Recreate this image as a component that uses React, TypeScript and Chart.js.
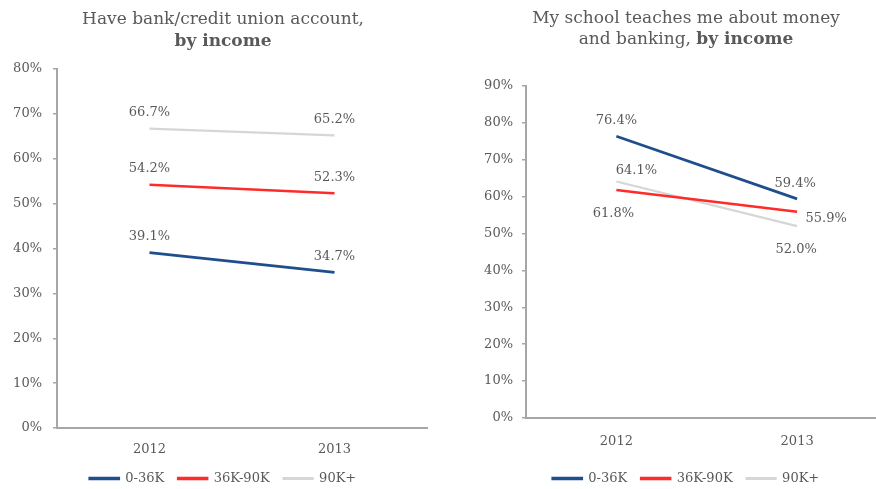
import React, { useEffect, useRef } from "react";
import { Chart, registerables } from "chart.js";

Chart.register(...registerables);

// ---- data ----
const years = ["2012", "2013"];
const seriesNames = ["0-36K", "36K-90K", "90K+"];
const bankLow = [39.1, 34.7];
const bankMid = [54.2, 52.3];
const bankHigh = [66.7, 65.2];
const schoolLow = [76.4, 59.4];
const schoolMid = [61.8, 55.9];
const schoolHigh = [64.1, 52.0];
const bankMax = 80;
const schoolMax = 90;
const tickStep = 10;

// ---- style ----
const FONT = "'DejaVu Serif', Georgia, serif";
const TEXT = "#595959";
const AXIS = "#a6a6a6";
const COLORS = ["#1f4e8c", "#ff2b2b", "#d6d6d6"];
const WIDTHS = [2.7, 2.5, 2.2];

type Run = { text: string; bold?: boolean };

function makeLegendShiftPlugin(center: number) {
  return {
    id: "legendShift",
    afterLayout(chart: any) {
      const lg = chart.legend;
      if (!lg) return;
      const d = center - (lg.left + lg.right) / 2;
      lg.left += d;
      lg.right += d;
    },
  };
}

function makeTitlePlugin(lines: Run[][], ys: number[], center: number) {
  return {
    id: "richTitle",
    afterDraw(chart: any) {
      const ctx = chart.ctx;
      ctx.save();
      ctx.fillStyle = TEXT;
      ctx.textBaseline = "middle";
      ctx.textAlign = "left";
      lines.forEach((runs, li) => {
        let total = 0;
        const widths = runs.map((r) => {
          ctx.font = `${r.bold ? "bold " : ""}17px ${FONT}`;
          const w = ctx.measureText(r.text).width;
          total += w;
          return w;
        });
        let x = center - total / 2;
        runs.forEach((r, i) => {
          ctx.font = `${r.bold ? "bold " : ""}17px ${FONT}`;
          ctx.fillText(r.text, x, ys[li]);
          x += widths[i];
        });
      });
      ctx.restore();
    },
  };
}

function makeLabelPlugin(offsets: number[][][]) {
  return {
    id: "valueLabels",
    afterDatasetsDraw(chart: any) {
      const ctx = chart.ctx;
      ctx.save();
      ctx.font = `13px ${FONT}`;
      ctx.fillStyle = TEXT;
      ctx.textAlign = "center";
      ctx.textBaseline = "middle";
      chart.data.datasets.forEach((ds: any, di: number) => {
        const meta = chart.getDatasetMeta(di);
        meta.data.forEach((pt: any, i: number) => {
          const [dx, dy] = offsets[di][i];
          ctx.fillText(Number(ds.data[i]).toFixed(1) + "%", pt.x + dx, pt.y + dy);
        });
      });
      ctx.restore();
    },
  };
}

type PanelProps = {
  series: number[][];
  max: number;
  width: number;
  height: number;
  padding: { left: number; right: number; top: number; bottom: number };
  yWidth: number;
  xHeight: number;
  yTickPad: number;
  xTickPad: number;
  center: number;
  titleLines: Run[][];
  titleYs: number[];
  labelOffsets: number[][][];
};

function Panel(p: PanelProps) {
  const ref = useRef<HTMLCanvasElement | null>(null);
  useEffect(() => {
    if (!ref.current) return;
    const chart = new Chart(ref.current, {
      type: "line",
      data: {
        labels: years,
        datasets: seriesNames.map((name, i) => ({
          label: name,
          data: p.series[i],
          borderColor: COLORS[i],
          backgroundColor: COLORS[i],
          borderWidth: WIDTHS[i],
          pointRadius: 0,
          tension: 0,
          fill: false,
        })),
      },
      options: {
        animation: false,
        responsive: false,
        devicePixelRatio: 1,
        layout: { padding: p.padding },
        plugins: {
          title: { display: false },
          tooltip: { enabled: false },
          legend: {
            display: true,
            position: "bottom",
            labels: {
              boxWidth: 29,
              boxHeight: 1,
              padding: 14,
              color: TEXT,
              font: { family: FONT, size: 13 },
            },
          },
        },
        scales: {
          x: {
            offset: true,
            grid: { display: false, drawTicks: false },
            border: { display: true, color: AXIS, width: 2 },
            ticks: {
              padding: p.xTickPad,
              color: TEXT,
              font: { family: FONT, size: 13 },
              maxRotation: 0,
            },
            afterFit: (s: any) => {
              s.height = p.xHeight;
            },
          },
          y: {
            min: 0,
            max: p.max,
            grid: {
              drawOnChartArea: false,
              drawTicks: true,
              tickLength: 4,
              color: AXIS,
              lineWidth: 1.5,
            },
            border: { display: true, color: AXIS, width: 2 },
            ticks: {
              stepSize: tickStep,
              padding: p.yTickPad,
              color: TEXT,
              font: { family: FONT, size: 13 },
              callback: (v: any) => `${v}%`,
            },
            afterFit: (s: any) => {
              s.width = p.yWidth;
            },
          },
        },
      },
      plugins: [
        makeLegendShiftPlugin(p.center),
        makeTitlePlugin(p.titleLines, p.titleYs, p.center),
        makeLabelPlugin(p.labelOffsets),
      ],
    } as any);
    return () => chart.destroy();
  }, []);
  return <canvas ref={ref} width={p.width} height={p.height} style={{ display: "block" }} />;
}

export default function App() {
  return (
    <div
      style={{
        position: "fixed",
        left: 0,
        top: 0,
        width: 876,
        height: 489,
        overflow: "hidden",
        background: "#fff",
      }}
    >
      <div style={{ position: "absolute", left: 0, top: 0 }}>
        <Panel
          series={[bankLow, bankMid, bankHigh]}
          max={bankMax}
          width={440}
          height={495}
          padding={{ left: 0, right: 13, top: 69, bottom: 0 }}
          yWidth={57}
          xHeight={30}
          yTickPad={11}
          xTickPad={14}
          center={223}
          titleLines={[[{ text: "Have bank/credit union account," }], [{ text: "by income", bold: true }]]}
          titleYs={[20, 42]}
          labelOffsets={[
            [[0, -16], [0, -16]],
            [[0, -16], [0, -16]],
            [[0, -16], [0, -16]],
          ]}
        />
      </div>
      <div style={{ position: "absolute", left: 440, top: 0 }}>
        <Panel
          series={[schoolLow, schoolMid, schoolHigh]}
          max={schoolMax}
          width={450}
          height={495}
          padding={{ left: 0, right: 2.5, top: 86, bottom: 0 }}
          yWidth={86}
          xHeight={40}
          yTickPad={9}
          xTickPad={16}
          center={246}
          titleLines={[
            [{ text: "My school teaches me about money" }],
            [{ text: "and banking, " }, { text: "by income", bold: true }],
          ]}
          titleYs={[19, 40]}
          labelOffsets={[
            [[0, -16], [-2, -15]],
            [[-3, 24], [29, 7]],
            [[20, -11], [-1, 23]],
          ]}
        />
      </div>
    </div>
  );
}
